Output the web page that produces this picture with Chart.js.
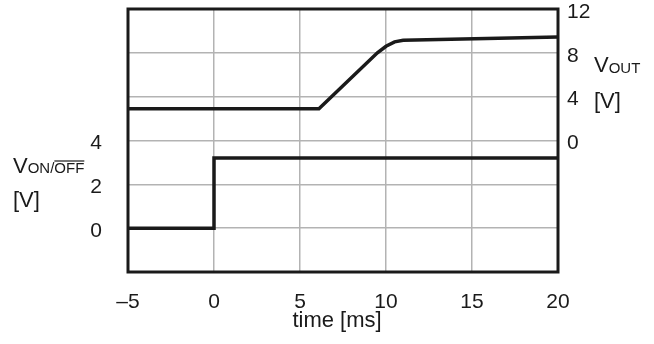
<!DOCTYPE html>
<html>
<head>
<meta charset="utf-8">
<script src="https://cdn.jsdelivr.net/npm/chart.js@4"></script>
<style>
  html, body { margin: 0; padding: 0; background: #fff; }
  #wrap { width: 654px; height: 344px; }
</style>
</head>
<body>
<div id="wrap"><canvas id="myChart" width="654" height="344"></canvas></div>
<script>
/******** data */
const vonTime = [-5, 0, 0, 20];
const vonVolts = [0, 0, 3.2, 3.2];

const voutTime = [-5, 6.1, 9.5, 10, 10.5, 11, 20];
const voutVolts = [2.9, 2.9, 8.0, 8.6, 9.0, 9.15, 9.45];

const timeTicks = [-5, 0, 5, 10, 15, 20];
const leftLabels = [0, 2, 4];
const rightLabels = [0, 4, 8, 12];

const FONT = "'Liberation Sans', Arial, sans-serif";
const INK = "#1a1a1a";
const GRID = "#b3b3b3";

function toPoints(xs, ys) {
  return xs.map((x, i) => ({ x: x, y: ys[i] }));
}

// keep chart area fixed, no auto padding from edge labels
function noPad(scale) {
  scale.paddingTop = 0;
  scale.paddingBottom = 0;
  scale.paddingLeft = 0;
  scale.paddingRight = 0;
}

/******** frame + axis titles */
const titlesPlugin = {
  id: "titles",
  afterDraw(chart) {
    const ctx = chart.ctx;
    const a = chart.chartArea;
    ctx.save();
    ctx.strokeStyle = INK;
    ctx.lineWidth = 3;
    ctx.strokeRect(a.left, a.top, a.right - a.left, a.bottom - a.top);

    ctx.fillStyle = INK;
    ctx.textBaseline = "alphabetic";
    ctx.textAlign = "left";

    // right title V_OUT [V]
    ctx.font = "22px " + FONT;
    ctx.fillText("V", 594, 72);
    let w = ctx.measureText("V").width;
    ctx.font = "15px " + FONT;
    ctx.fillText("OUT", 594 + w, 73);
    ctx.font = "22px " + FONT;
    ctx.fillText("[V]", 594, 108);

    // left title V_ON/OFF [V]
    ctx.font = "22px " + FONT;
    ctx.fillText("V", 13, 173);
    w = ctx.measureText("V").width;
    ctx.font = "15px " + FONT;
    const sx = 13 + w;
    ctx.fillText("ON/OFF", sx, 173);
    const pre = ctx.measureText("ON/").width;
    const off = ctx.measureText("OFF").width;
    ctx.lineWidth = 1.2;
    ctx.beginPath();
    ctx.moveTo(sx + pre, 161);
    ctx.lineTo(sx + pre + off, 161);
    ctx.stroke();
    ctx.font = "22px " + FONT;
    ctx.fillText("[V]", 13, 207);

    // x title
    ctx.textAlign = "center";
    ctx.fillText("time [ms]", 337, 327);
    ctx.restore();
  }
};

const ctx = document.getElementById("myChart");
new Chart(ctx, {
  type: "line",
  data: {
    datasets: [
      {
        label: "VOUT",
        data: toPoints(voutTime, voutVolts),
        yAxisID: "y2",
        borderColor: INK,
        borderWidth: 3.5,
        pointRadius: 0,
        tension: 0
      },
      {
        label: "VON/OFF",
        data: toPoints(vonTime, vonVolts),
        yAxisID: "y",
        borderColor: INK,
        borderWidth: 3.5,
        pointRadius: 0,
        tension: 0
      }
    ]
  },
  options: {
    responsive: false,
    animation: false,
    layout: { padding: { top: 9, left: 0, right: 0, bottom: 0 } },
    plugins: {
      legend: { display: false },
      tooltip: { enabled: false }
    },
    scales: {
      x: {
        type: "linear",
        min: -5,
        max: 20,
        afterBuildTicks(scale) {
          scale.ticks = timeTicks.map(v => ({ value: v }));
        },
        afterFit(scale) { scale.height = 72; noPad(scale); },
        grid: { color: GRID, lineWidth: 1.5, drawTicks: false },
        border: { display: false },
        ticks: {
          color: INK,
          font: { size: 21, family: FONT },
          padding: 18,
          maxRotation: 0,
          callback: v => String(v).replace("-", "\u2013")
        }
      },
      y: {
        position: "left",
        min: -2,
        max: 10,
        ticks: {
          stepSize: 2,
          color: INK,
          font: { size: 21, family: FONT },
          padding: 26,
          labelOffset: 3,
          callback: v => leftLabels.includes(v) ? String(v) : ""
        },
        afterFit(scale) { scale.width = 128; noPad(scale); },
        grid: { color: GRID, lineWidth: 1.5, drawTicks: false },
        border: { display: false }
      },
      y2: {
        position: "right",
        min: -12,
        max: 12,
        ticks: {
          stepSize: 4,
          color: INK,
          font: { size: 21, family: FONT },
          padding: 9,
          labelOffset: 3,
          callback: v => rightLabels.includes(v) ? String(v) : ""
        },
        afterFit(scale) { scale.width = 96; noPad(scale); },
        grid: { display: false, drawTicks: false },
        border: { display: false }
      }
    }
  },
  plugins: [titlesPlugin]
});
</script>
</body>
</html>
